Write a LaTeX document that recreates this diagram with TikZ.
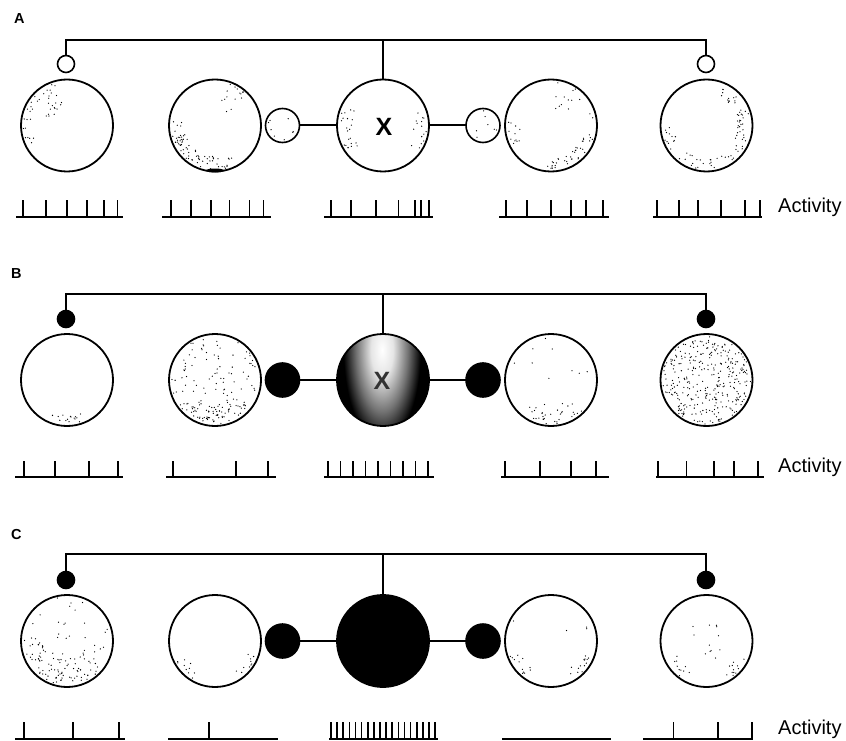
\documentclass[tikz,border=0pt]{standalone}
\usepackage{fontspec}
\setmainfont{Liberation Sans}
\pgfmathsetseed{7}
\pgfdeclareradialshading{streak}{\pgfpoint{0bp}{0bp}}{color(0bp)=(white); color(6bp)=(white!90!black); color(14bp)=(black!55); color(21bp)=(black); color(50bp)=(black)}
\newcommand{\stip}[7]{%
  \foreach \k in {1,...,#4}{%
    \pgfmathsetmacro\sa{-(#5+(rnd-0.5)*#6)}%
    \pgfmathsetmacro\sr{(#3)*sqrt(#7*#7+(1-#7*#7)*rnd)}%
    \fill (#1,#2) ++(\sa:\sr) circle (0.65);}}
\newcommand{\spktrain}[5]{%
  \draw[base] (#1,#3) -- (#2,#3);
  \foreach \s in {#5}{\draw[spike] (\s,#3) -- (\s,#3-#4);}}
\begin{document}
\begin{tikzpicture}[x=1pt,y=-1pt,
  cell/.style={circle, draw, line width=1.8pt, minimum size=92pt, inner sep=0pt, outer sep=0pt},
  syn/.style={circle, draw, line width=1.6pt, minimum size=34pt, inner sep=0pt, outer sep=0pt},
  tsyn/.style={circle, draw, line width=1.6pt, minimum size=17pt, inner sep=0pt, outer sep=0pt},
  blk/.style={fill=black},
  wire/.style={line width=2pt},
  thinwire/.style={line width=1.6pt},
  spike/.style={line width=1.6pt},
  base/.style={line width=2pt},
  lab/.style={font=\bfseries\fontsize{14.5}{15}\selectfont, anchor=base west, inner sep=0pt},
  act/.style={font=\fontsize{20}{22}\selectfont, anchor=base west, inner sep=0pt},
  xlab/.style={font=\bfseries\fontsize{25}{25}\selectfont, inner sep=0pt}]
\useasboundingbox (0,0) rectangle (846,741);

% ================= Panel A =================
\stip{67}{125.5}{44}{30}{130}{60}{0.3}
\stip{67}{125.5}{44}{10}{190}{40}{0.8}
\stip{215}{125.5}{44}{60}{250}{110}{0.7}
\stip{215}{125.5}{44}{15}{60}{30}{0.4}
\stip{215}{125.5}{44}{12}{190}{40}{0.75}
\fill (215,170.5) ellipse (9 and 2);
\stip{282.5}{125.5}{15}{8}{0}{360}{0}
\stip{383}{125.5}{44}{22}{185}{70}{0.7}
\stip{383}{125.5}{44}{15}{-10}{70}{0.7}
\stip{483}{125.5}{15}{7}{0}{360}{0}
\stip{551}{125.5}{44}{40}{-40}{120}{0.75}
\stip{551}{125.5}{44}{12}{60}{50}{0.3}
\stip{551}{125.5}{44}{12}{190}{40}{0.7}
\stip{706.5}{125.5}{44}{45}{15}{110}{0.7}
\stip{706.5}{125.5}{44}{25}{270}{80}{0.75}
\stip{706.5}{125.5}{44}{12}{200}{40}{0.7}

\node[lab] (labA) at (14,24) {A};
\node[cell] (a1) at (67,125.5) {};
\node[cell] (a2) at (215,125.5) {};
\node[cell] (a3) at (383,125.5) {};
\node[xlab] (xa) at (384,127) {X};
\node[cell] (a4) at (551,125.5) {};
\node[cell] (a5) at (706.5,125.5) {};
\node[tsyn] (ta1) at (66,64) {};
\node[tsyn] (ta5) at (706,64) {};
\node[syn] (la) at (282.5,125.5) {};
\node[syn] (ra) at (483,125.5) {};
\coordinate (topA) at (383,40);
\draw[wire] (ta1.north) |- (topA) -| (ta5.north);
\draw[wire] (topA) -- (a3.north);
\draw[wire] (la.east) -- (a3.west);
\draw[wire] (a3.east) -- (ra.west);

\spktrain{16}{123}{217}{17}{22.7,46,66.7,87,104,117.5}
\spktrain{162}{271}{217}{17}{170.7,191,210.7,229.3,249.3,263.3}
\spktrain{324}{433}{217}{17}{330.7,350.7,376,398.3,415,421,429}
\spktrain{499}{609}{217}{17}{506,527,551,571,586,603}
\spktrain{653}{762}{217}{17}{657,679,698,721,745,760}
\node[act] (actA) at (778,212.5) {Activity};

% ================= Panel B =================
\stip{67}{380}{44}{15}{270}{50}{0.8}
\stip{215}{380}{44}{110}{0}{360}{0}
\stip{215}{380}{44}{50}{270}{100}{0.6}
\stip{551}{380}{44}{12}{0}{360}{0}
\stip{551}{380}{44}{30}{270}{90}{0.7}
\stip{706.5}{380}{44}{320}{0}{360}{0}
\begin{scope}
  \clip (383,380) circle (46);
  \fill[black] (383,380) circle (46);
  \shade[shading=streak] (382,350) ellipse (46 and 110);
\end{scope}

\node[lab] (labB) at (11,278) {B};
\node[cell] (b1) at (67,380) {};
\node[cell] (b2) at (215,380) {};
\node[cell] (b3) at (383,380) {};
\node[xlab, text=black!80] (xb) at (382,381) {X};
\node[cell] (b4) at (551,380) {};
\node[cell] (b5) at (706.5,380) {};
\node[tsyn, blk] (tb1) at (66,319) {};
\node[tsyn, blk] (tb5) at (706,319) {};
\node[syn, blk] (lb) at (282.5,380) {};
\node[syn, blk] (rb) at (483,380) {};
\coordinate (topB) at (383,294);
\draw[wire] (tb1.north) |- (topB) -| (tb5.north);
\draw[wire] (topB) -- (b3.north);
\draw[wire] (lb.east) -- (b3.west);
\draw[wire] (b3.east) -- (rb.west);

\spktrain{15}{123}{476.5}{16}{24,55,89,118}
\spktrain{166}{276}{476.5}{16}{173,236,268}
\spktrain{324}{434}{476.5}{16}{328,340.5,353,365.5,378,390.5,403,415.5,428}
\spktrain{501}{609}{476.5}{16}{505,540,571,596}
\spktrain{656}{764}{476.5}{16}{658,686.5,714,734,758}
\node[act] (actB) at (778,472) {Activity};

% ================= Panel C =================
\stip{67}{641}{44}{40}{0}{360}{0}
\stip{67}{641}{44}{80}{250}{150}{0.4}
\stip{215}{641}{44}{10}{220}{40}{0.75}
\stip{215}{641}{44}{10}{320}{40}{0.75}
\stip{551}{641}{44}{12}{220}{40}{0.75}
\stip{551}{641}{44}{14}{320}{40}{0.75}
\stip{551}{641}{44}{4}{0}{360}{0}
\stip{706.5}{641}{20}{12}{0}{360}{0}
\stip{706.5}{641}{44}{10}{225}{40}{0.75}
\stip{706.5}{641}{44}{12}{320}{40}{0.75}

\node[lab] (labC) at (11,539) {C};
\node[cell] (c1) at (67,641) {};
\node[cell] (c2) at (215,641) {};
\node[cell, blk] (c3) at (383,641) {};
\node[cell] (c4) at (551,641) {};
\node[cell] (c5) at (706.5,641) {};
\node[tsyn, blk] (tc1) at (66,580) {};
\node[tsyn, blk] (tc5) at (706,580) {};
\node[syn, blk] (lc) at (282.5,641) {};
\node[syn, blk] (rc) at (483,641) {};
\coordinate (topC) at (383,554);
\draw[thinwire] (tc1.north) |- (topC) -| (tc5.north);
\draw[thinwire] (topC) -- (c3.north);
\draw[wire] (lc.east) -- (c3.west);
\draw[wire] (c3.east) -- (rc.west);

\spktrain{15}{125}{739}{17}{24,73,119}
\spktrain{168}{278}{739}{17}{209}
\spktrain{329}{438}{739}{17}{331,337.1,343.2,349.4,355.5,361.6,367.7,373.8,380,386.1,392.2,398.3,404.4,410.6,416.7,422.8,428.9,435}
\draw[base] (502,739) -- (611,739);
\spktrain{643}{753}{739}{17}{673.5,718,752}
\node[act] (actC) at (778,734.5) {Activity};
\end{tikzpicture}
\end{document}
